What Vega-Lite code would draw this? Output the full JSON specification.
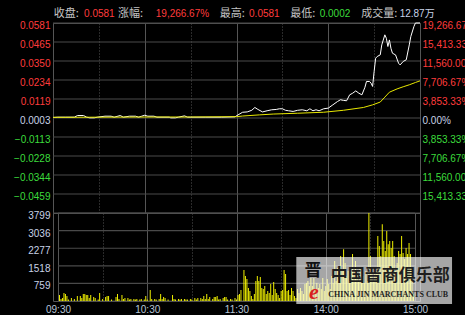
{
  "$schema": "https://vega.github.io/schema/vega-lite/v6.json",
  "background": "#000000",
  "autosize": {"type": "pad"},
  "padding": {"left": 13, "top": 7, "right": 0, "bottom": 0},
  "spacing": 0,
  "bounds": "flush",
  "config": {
    "view": {"stroke": "#555555", "strokeWidth": 1},
    "axis": {"labelFont": "Liberation Sans", "labelFontSize": 10, "domain": false, "ticks": false, "gridColor": "#555555", "gridWidth": 1, "title": null, "labelOverlap": false}
  },
  "datasets": {
    "px": [
      {"m":0,"p":0.0006},{"m":3,"p":0.0008},{"m":8,"p":0.0008},{"m":14,"p":0.0008},{"m":16,"p":0.0018},{"m":20,"p":0.0018},{"m":22,"p":0.0008},{"m":24,"p":0.0004},{"m":27,"p":0.0004},{"m":29,"p":0.0008},{"m":34,"p":0.0014},{"m":38,"p":0.0014},{"m":40,"p":0.0008},{"m":44,"p":0.0018},{"m":46,"p":0.0008},{"m":50,"p":0.0014},{"m":54,"p":0.0014},{"m":56,"p":0.0008},{"m":58,"p":0.0014},{"m":60,"p":0.002},{"m":62,"p":0.0014},{"m":66,"p":0.0014},{"m":68,"p":0.0008},{"m":76,"p":0.0008},{"m":77,"p":0.0004},{"m":80,"p":0.0004},{"m":82,"p":0.0008},{"m":86,"p":0.0016},{"m":88,"p":0.0008},{"m":100,"p":0.0008},{"m":110,"p":0.0008},{"m":119,"p":0.001},{"m":121,"p":0.0022},{"m":124,"p":0.0038},{"m":127,"p":0.004},{"m":130,"p":0.005},{"m":132,"p":0.0067},{"m":134,"p":0.0055},{"m":137,"p":0.004},{"m":140,"p":0.0047},{"m":143,"p":0.0053},{"m":146,"p":0.0055},{"m":148,"p":0.0059},{"m":150,"p":0.0059},{"m":152,"p":0.005},{"m":154,"p":0.0047},{"m":157,"p":0.0043},{"m":160,"p":0.005},{"m":163,"p":0.0053},{"m":166,"p":0.0047},{"m":168,"p":0.0059},{"m":170,"p":0.0047},{"m":172,"p":0.0053},{"m":174,"p":0.0047},{"m":177,"p":0.0059},{"m":180,"p":0.0063},{"m":183,"p":0.0083},{"m":186,"p":0.0103},{"m":188,"p":0.0114},{"m":190,"p":0.011},{"m":192,"p":0.0108},{"m":194,"p":0.0144},{"m":196,"p":0.0154},{"m":198,"p":0.0168},{"m":200,"p":0.0154},{"m":202,"p":0.0144},{"m":204,"p":0.019},{"m":205,"p":0.0225},{"m":207,"p":0.0225},{"m":208,"p":0.0215},{"m":209,"p":0.0195},{"m":210,"p":0.0286},{"m":211,"p":0.0367},{"m":212,"p":0.0377},{"m":214,"p":0.0387},{"m":215,"p":0.0448},{"m":217,"p":0.0509},{"m":218,"p":0.0488},{"m":219,"p":0.0438},{"m":220,"p":0.0478},{"m":221,"p":0.0427},{"m":222,"p":0.0397},{"m":224,"p":0.0387},{"m":226,"p":0.0336},{"m":227,"p":0.0326},{"m":229,"p":0.0347},{"m":231,"p":0.0357},{"m":233,"p":0.0448},{"m":234,"p":0.0499},{"m":236,"p":0.0559},{"m":237,"p":0.0581},{"m":240,"p":0.0581}
    ],
    "avg": [
      {"m":0,"a":0.0007},{"m":30,"a":0.0008},{"m":60,"a":0.0009},{"m":90,"a":0.0009},{"m":120,"a":0.0011},{"m":124,"a":0.0015},{"m":135,"a":0.0022},{"m":144,"a":0.0027},{"m":160,"a":0.0032},{"m":177,"a":0.0038},{"m":190,"a":0.005},{"m":203,"a":0.0067},{"m":209,"a":0.0083},{"m":214,"a":0.01},{"m":217,"a":0.013},{"m":220,"a":0.016},{"m":225,"a":0.018},{"m":229,"a":0.0193},{"m":233,"a":0.0205},{"m":237,"a":0.0219},{"m":240,"a":0.0229}
    ],
    "vol": [
      {"m":1,"v":260},{"m":2,"v":90},{"m":3,"v":130},{"m":4,"v":345},{"m":5,"v":300},{"m":6,"v":215},{"m":7,"v":60},{"m":9,"v":130},{"m":11,"v":90},{"m":13,"v":215},{"m":15,"v":215},{"m":16,"v":130},{"m":17,"v":300},{"m":18,"v":300},{"m":19,"v":260},{"m":20,"v":260},{"m":21,"v":130},{"m":22,"v":260},{"m":24,"v":170},{"m":25,"v":130},{"m":27,"v":60},{"m":28,"v":345},{"m":30,"v":90},{"m":32,"v":170},{"m":33,"v":215},{"m":34,"v":215},{"m":36,"v":60},{"m":39,"v":170},{"m":40,"v":300},{"m":41,"v":90},{"m":43,"v":260},{"m":44,"v":90},{"m":45,"v":130},{"m":47,"v":130},{"m":48,"v":60},{"m":49,"v":90},{"m":51,"v":90},{"m":52,"v":60},{"m":53,"v":90},{"m":55,"v":60},{"m":56,"v":90},{"m":58,"v":60},{"m":59,"v":215},{"m":60,"v":60},{"m":62,"v":475},{"m":63,"v":90},{"m":65,"v":90},{"m":66,"v":60},{"m":68,"v":90},{"m":69,"v":300},{"m":70,"v":90},{"m":71,"v":170},{"m":72,"v":130},{"m":74,"v":60},{"m":77,"v":260},{"m":78,"v":90},{"m":79,"v":60},{"m":81,"v":90},{"m":82,"v":60},{"m":83,"v":90},{"m":85,"v":90},{"m":86,"v":60},{"m":87,"v":60},{"m":89,"v":90},{"m":90,"v":60},{"m":92,"v":130},{"m":93,"v":60},{"m":94,"v":130},{"m":96,"v":130},{"m":97,"v":90},{"m":98,"v":215},{"m":99,"v":90},{"m":100,"v":300},{"m":101,"v":90},{"m":102,"v":170},{"m":104,"v":90},{"m":105,"v":170},{"m":106,"v":170},{"m":107,"v":215},{"m":108,"v":60},{"m":109,"v":90},{"m":111,"v":130},{"m":112,"v":170},{"m":113,"v":170},{"m":114,"v":60},{"m":116,"v":90},{"m":117,"v":60},{"m":119,"v":130},{"m":120,"v":60},
      {"m":121,"v":260},{"m":122,"v":300},{"m":123,"v":475},{"m":125,"v":1340},{"m":126,"v":1080},{"m":127,"v":950},{"m":128,"v":560},{"m":129,"v":430},{"m":130,"v":215},{"m":131,"v":90},{"m":132,"v":300},{"m":133,"v":865},{"m":134,"v":1080},{"m":135,"v":865},{"m":136,"v":1037},{"m":137,"v":560},{"m":138,"v":520},{"m":139,"v":650},{"m":140,"v":300},{"m":141,"v":430},{"m":142,"v":345},{"m":143,"v":735},{"m":144,"v":260},{"m":145,"v":820},{"m":146,"v":520},{"m":147,"v":345},{"m":148,"v":260},{"m":149,"v":130},{"m":150,"v":430},{"m":151,"v":475},{"m":152,"v":1340},{"m":153,"v":1165},{"m":154,"v":430},{"m":155,"v":475},{"m":156,"v":260},{"m":157,"v":560},{"m":158,"v":430},{"m":159,"v":215},{"m":160,"v":130},{"m":161,"v":520},{"m":162,"v":345},{"m":163,"v":560},{"m":164,"v":430},{"m":165,"v":300},{"m":166,"v":735},{"m":167,"v":780},{"m":168,"v":865},{"m":169,"v":650},{"m":170,"v":995},{"m":171,"v":650},{"m":172,"v":995},{"m":173,"v":520},{"m":174,"v":780},{"m":175,"v":560},{"m":176,"v":735},{"m":177,"v":520},{"m":178,"v":995},{"m":179,"v":430},{"m":180,"v":650},{"m":181,"v":950},{"m":182,"v":735},{"m":183,"v":520},{"m":184,"v":1080},{"m":185,"v":780},{"m":186,"v":1727},{"m":187,"v":865},{"m":188,"v":1425},{"m":189,"v":950},{"m":190,"v":1944},{"m":191,"v":1296},{"m":192,"v":2233},{"m":193,"v":1640},{"m":194,"v":1080},{"m":195,"v":1296},{"m":196,"v":865},{"m":197,"v":1296},{"m":198,"v":2030},{"m":199,"v":1296},{"m":200,"v":1727},{"m":201,"v":1296},{"m":202,"v":865},{"m":203,"v":1425},{"m":204,"v":865},{"m":205,"v":1080},{"m":206,"v":780},{"m":207,"v":1296},{"m":208,"v":865},{"m":209,"v":3799},{"m":210,"v":1944},{"m":211,"v":1210},{"m":212,"v":865},{"m":213,"v":1425},{"m":214,"v":1296},{"m":215,"v":2806},{"m":216,"v":2376},{"m":217,"v":1944},{"m":218,"v":3311},{"m":219,"v":2592},{"m":220,"v":2160},{"m":221,"v":3022},{"m":222,"v":2450},{"m":223,"v":2592},{"m":224,"v":2290},{"m":225,"v":2592},{"m":226,"v":1944},{"m":227,"v":1296},{"m":228,"v":1640},{"m":229,"v":2160},{"m":230,"v":2030},{"m":231,"v":2806},{"m":232,"v":2074},{"m":233,"v":1814},{"m":234,"v":2290},{"m":235,"v":2030},{"m":236,"v":2506},{"m":237,"v":2030},{"m":238,"v":1425},{"m":239,"v":300}
    ],
    "gp": [{"g":0.0581},{"g":0.04654},{"g":0.03498},{"g":0.02342},{"g":0.01186},{"g":0.0003},{"g":-0.01126},{"g":-0.02282},{"g":-0.03438},{"g":-0.04594},{"g":-0.0575}],
    "gv": [{"g":0},{"g":759},{"g":1518},{"g":2277},{"g":3036},{"g":3799}],
    "hdrLab": [
      {"t":"收盘:","m":0.5},{"t":"涨幅:","m":42.5},{"t":"最高:","m":109},{"t":"最低:","m":155.2},{"t":"成交量:","m":201.6}
    ],
    "hdrVal": [
      {"t":"0.0581","m":20.3,"k":"up"},{"t":"19,266.67%","m":67.2,"k":"up"},{"t":"0.0581","m":128.2,"k":"up"},{"t":"0.0002","m":174.4,"k":"dn"},{"t":"12.87万","m":226.7,"k":"neu"}
    ]
  },
  "vconcat": [
    {
      "width": 367,
      "height": 190,
      "layer": [
        {
          "data": {"name": "gp"},
          "mark": {"type": "rect", "fill": "#4a4a4a", "height": 1.2},
          "encoding": {
            "x": {"datum": 0, "type": "quantitative", "scale": {"domain": [0, 240], "nice": false, "zero": false}},
            "x2": {"datum": 240},
            "y": {"field": "g", "type": "quantitative", "scale": {"domain": [-0.0575, 0.0581], "nice": false, "zero": false}, "axis": null}
          }
        },
        {
          "data": {"name": "px"},
          "mark": {"type": "line", "color": "#ffffff", "strokeWidth": 1},
          "encoding": {
            "x": {"field": "m", "type": "quantitative", "scale": {"domain": [0, 240], "nice": false, "zero": false},
                  "axis": {"values": [0,30,60,90,120,150,180,210,240], "labels": false, "grid": true,
                           "gridDash": {"condition": {"test": "datum.value % 60 == 30", "value": [1, 2]}, "value": []}}},
            "y": {"field": "p", "type": "quantitative", "scale": {"domain": [-0.0575, 0.0581], "nice": false, "zero": false},
                  "axis": {"orient": "left", "values": [0.0581,0.04654,0.03498,0.02342,0.01186,0.0003,-0.01126,-0.02282,-0.03438,-0.04594,-0.0575],
                           "labelExpr": "datum.value < -0.05 ? '' : format(datum.value, '.4f')",
                           "labelColor": {"condition": [{"test": "datum.value > 0.0004", "value": "#ff3c3c"}, {"test": "datum.value < 0.0002", "value": "#3cdc3c"}], "value": "#c8d2e6"},
                           "labelPadding": 3, "labelOffset": 2.5, "labelOverlap": false, "grid": false}}
          }
        },
        {
          "data": {"name": "avg"},
          "mark": {"type": "line", "color": "#e8e800", "strokeWidth": 1},
          "encoding": {
            "x": {"field": "m", "type": "quantitative", "scale": {"domain": [0, 240], "nice": false, "zero": false}},
            "y": {"field": "a", "type": "quantitative", "scale": {"domain": [-0.0575, 0.0581], "nice": false, "zero": false},
                  "axis": {"orient": "right", "values": [0.0581,0.04654,0.03498,0.02342,0.01186,0.0003,-0.01126,-0.02282,-0.03438,-0.04594,-0.0575],
                           "labelExpr": "datum.value < -0.05 ? '' : format(abs(datum.value - 0.0003) / 0.0003 * 100, ',.2f') + '%'",
                           "labelColor": {"condition": [{"test": "datum.value > 0.0004", "value": "#ff3c3c"}, {"test": "datum.value < 0.0002", "value": "#3cdc3c"}], "value": "#c8d2e6"},
                           "labelAlign": "left", "labelPadding": 2, "labelOffset": 2.5, "labelOverlap": false, "grid": false}}
          }
        },
        {
          "data": {"name": "hdrLab"},
          "mark": {"type": "text", "align": "left", "baseline": "middle", "font": "Noto Sans CJK SC", "fontSize": 11, "color": "#c4c4c4"},
          "encoding": {
            "x": {"field": "m", "type": "quantitative", "scale": {"domain": [0, 240], "nice": false, "zero": false}},
            "y": {"datum": 0.0636, "type": "quantitative", "scale": {"domain": [-0.0575, 0.0581], "nice": false, "zero": false}, "axis": null},
            "text": {"field": "t"}
          }
        },
        {
          "data": {"name": "hdrVal"},
          "mark": {"type": "text", "align": "left", "baseline": "middle", "font": "Liberation Sans, Noto Sans CJK SC", "fontSize": 10},
          "encoding": {
            "x": {"field": "m", "type": "quantitative", "scale": {"domain": [0, 240], "nice": false, "zero": false}},
            "y": {"datum": 0.0636, "type": "quantitative", "scale": {"domain": [-0.0575, 0.0581], "nice": false, "zero": false}, "axis": null},
            "text": {"field": "t"},
            "color": {"field": "k", "type": "nominal", "scale": {"domain": ["up", "dn", "neu"], "range": ["#ff3c3c", "#3cdc3c", "#c8d2e6"]}, "legend": null}
          }
        }
      ],
      "resolve": {"scale": {"y": "independent"}}
    },
    {
      "width": 367,
      "height": 88,
      "layer": [
        {
          "data": {"name": "gv"},
          "mark": {"type": "rect", "fill": "#4a4a4a", "height": 1.2},
          "encoding": {
            "x": {"datum": 0, "type": "quantitative", "scale": {"domain": [0, 240], "nice": false, "zero": false}},
            "x2": {"datum": 240},
            "y": {"field": "g", "type": "quantitative", "scale": {"domain": [0, 3799], "nice": false, "zero": false}, "axis": null}
          }
        },
        {
          "data": {"name": "vol"},
          "mark": {"type": "bar", "color": "#f0f000", "width": 1},
          "encoding": {
            "x": {"field": "m", "type": "quantitative", "scale": {"domain": [0, 240], "nice": false, "zero": false},
                  "axis": {"values": [0,30,60,90,120,150,180,210,240], "grid": true,
                           "gridDash": {"condition": {"test": "datum.value % 60 == 30", "value": [1, 2]}, "value": []},
                           "labelExpr": "datum.value == 0 ? '09:30' : datum.value == 60 ? '10:30' : datum.value == 120 ? '11:30' : datum.value == 180 ? '14:00' : datum.value == 240 ? '15:00' : ''",
                           "labelFlush": false, "labelOverlap": false, "labelColor": "#b8c6d8", "labelPadding": 3}},
            "y": {"field": "v", "type": "quantitative", "scale": {"domain": [0, 3799], "nice": false, "zero": false},
                  "axis": {"values": [0, 759, 1518, 2277, 3036, 3799], "labelExpr": "datum.value == 0 ? '' : format(datum.value, 'd')",
                           "labelColor": "#c8d2e6", "labelPadding": 3, "labelOffset": 2.5, "labelOverlap": false, "labelSeparation": 0, "grid": false}}
          }
        },
        {
          "data": {"values": [{}]},
          "mark": {"type": "rect", "color": "#ffffff", "opacity": 0.65},
          "encoding": {
            "x": {"datum": 160.2, "type": "quantitative"},
            "x2": {"datum": 264.9},
            "y": {"datum": 1900, "type": "quantitative", "scale": {"domain": [0, 3799], "nice": false, "zero": false}, "axis": null},
            "y2": {"datum": -130}
          }
        },
        {
          "data": {"values": [{}]},
          "mark": {"type": "text", "text": "中国晋商俱乐部", "font": "Noto Sans CJK SC", "fontSize": 17, "fontWeight": "bold", "color": "#1e1e1e", "align": "center", "baseline": "middle"},
          "encoding": {
            "x": {"datum": 223.3, "type": "quantitative"},
            "y": {"datum": 1080, "type": "quantitative", "scale": {"domain": [0, 3799], "nice": false, "zero": false}, "axis": null}
          }
        },
        {
          "data": {"values": [{}]},
          "mark": {"type": "text", "text": "CHINA JIN MARCHANTS CLUB", "font": "Liberation Serif", "fontSize": 8, "fontWeight": "bold", "color": "#1e1e1e", "align": "center", "baseline": "middle"},
          "encoding": {
            "x": {"datum": 222, "type": "quantitative"},
            "y": {"datum": 259, "type": "quantitative", "scale": {"domain": [0, 3799], "nice": false, "zero": false}, "axis": null}
          }
        },
        {
          "data": {"values": [{}]},
          "mark": {"type": "text", "text": "晋", "font": "Noto Sans CJK SC", "fontSize": 17, "fontWeight": "bold", "color": "#111111", "align": "center", "baseline": "middle"},
          "encoding": {
            "x": {"datum": 171.4, "type": "quantitative"},
            "y": {"datum": 1300, "type": "quantitative", "scale": {"domain": [0, 3799], "nice": false, "zero": false}, "axis": null}
          }
        },
        {
          "data": {"values": [{}]},
          "mark": {"type": "text", "text": "e", "font": "Liberation Serif", "fontSize": 22, "fontStyle": "italic", "fontWeight": "bold", "color": "#d82020", "align": "center", "baseline": "middle"},
          "encoding": {
            "x": {"datum": 172, "type": "quantitative"},
            "y": {"datum": 400, "type": "quantitative", "scale": {"domain": [0, 3799], "nice": false, "zero": false}, "axis": null}
          }
        }
      ],
      "resolve": {"scale": {"y": "independent"}}
    }
  ]
}
